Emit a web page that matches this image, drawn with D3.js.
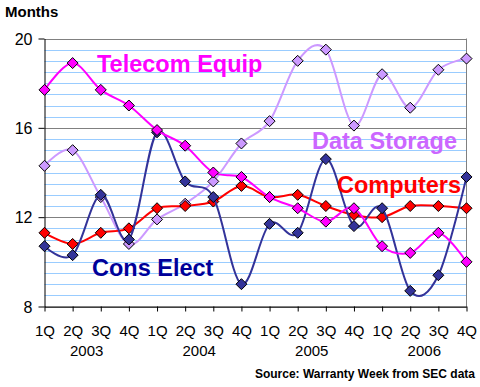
<!DOCTYPE html>
<html>
<head>
<meta charset="utf-8">
<script src="https://cdn.jsdelivr.net/npm/d3@7"></script>
<style>
  html, body { margin: 0; padding: 0; background: #fff; }
  svg { display: block; font-family: "Liberation Sans", Arial, sans-serif; }
</style>
</head>
<body>
<svg id="chart" width="480" height="387"></svg>
<script>
const quarters = ["1Q","2Q","3Q","4Q","1Q","2Q","3Q","4Q","1Q","2Q","3Q","4Q","1Q","2Q","3Q","4Q"];
const years = ["2003","2004","2005","2006"];
const yTicks = [8, 12, 16, 20];

const telecom     = [17.7, 18.9, 17.7, 17.0, 15.9, 15.2, 14.0, 13.8, 12.9, 12.4, 11.8, 12.4, 10.7, 10.4, 11.3, 10.0];
const computers   = [11.3, 10.8, 11.3, 11.5, 12.4, 12.5, 12.7, 13.4, 12.9, 13.0, 12.5, 12.1, 12.0, 12.5, 12.5, 12.4];
const consElect   = [10.7, 10.3, 13.0, 11.0, 15.8, 13.6, 12.9, 9.0, 11.7, 11.3, 14.6, 11.6, 12.4, 8.7, 9.4, 13.8];
const dataStorage = [14.3, 15.0, 12.9, 10.8, 11.9, 12.6, 13.6, 15.3, 16.3, 19.0, 19.5, 16.1, 18.4, 16.9, 18.6, 19.1];

const series = [
  { name: "Data Storage", values: dataStorage, color: "#CC99FF", text: "#CC66FF", lx: 312, ly: 149 },
  { name: "Computers",    values: computers,   color: "#FF0000", text: "#FF0000", lx: 337, ly: 193 },
  { name: "Cons Elect",   values: consElect,   color: "#333399", text: "#000099", lx: 92,  ly: 276 },
  { name: "Telecom Equip",values: telecom,     color: "#FF00FF", text: "#FF00FF", lx: 97,  ly: 72 }
];

const svg = d3.select("#chart");
const pLeft = 44.5, pRight = 466.5, pTop = 38.5, pBottom = 306.5;

const x = d3.scalePoint().domain(d3.range(quarters.length)).range([pLeft, pRight]);
const y = d3.scaleLinear().domain([8, 20]).range([pBottom, pTop]);

// minor gridlines
const minor = d3.range(8.5, 20, 0.5).filter(v => v % 4 !== 0);
svg.append("g").selectAll("line").data(minor).join("line")
  .attr("x1", pLeft).attr("x2", pRight)
  .attr("y1", d => Math.round(y(d)) + 0.5).attr("y2", d => Math.round(y(d)) + 0.5)
  .attr("stroke", "#99CCFF").attr("stroke-width", 1);
// major gridlines
svg.append("g").selectAll("line").data(yTicks).join("line")
  .attr("x1", pLeft).attr("x2", pRight)
  .attr("y1", d => Math.round(y(d)) + 0.5).attr("y2", d => Math.round(y(d)) + 0.5)
  .attr("stroke", "#808080").attr("stroke-width", 1);
// right border
svg.append("line").attr("x1", pRight).attr("x2", pRight).attr("y1", pTop).attr("y2", pBottom)
  .attr("stroke", "#808080");

// axes
const yAxis = svg.append("g").attr("transform", `translate(${pLeft},0)`)
  .call(d3.axisLeft(y).tickValues(yTicks).tickSize(6).tickSizeOuter(0).tickFormat(d3.format("d")));
yAxis.select(".domain").attr("stroke", "#000");
yAxis.selectAll(".tick line").attr("stroke", "#000");
yAxis.selectAll("text").attr("font-size", 16).attr("fill", "#000").attr("x", -12).attr("dy", "0.35em");

const xAxis = svg.append("g").attr("transform", `translate(0,${pBottom})`)
  .call(d3.axisBottom(x).tickSize(5).tickSizeOuter(0).tickFormat(i => quarters[i]));
xAxis.select(".domain").attr("stroke", "#000");
xAxis.selectAll(".tick line").attr("stroke", "#000");
xAxis.selectAll("text").attr("font-size", 15).attr("fill", "#000").attr("y", 29).attr("dy", 0);

// year labels
svg.append("g").selectAll("text").data(years).join("text")
  .attr("x", (d, i) => (x(i * 4 + 1) + x(i * 4 + 2)) / 2)
  .attr("y", 356)
  .attr("text-anchor", "middle").attr("font-size", 15).attr("fill", "#000")
  .text(d => d);

// lines and markers
const line = d3.line().x((d, i) => x(i)).y(d => y(d)).curve(d3.curveCardinal.tension(0));
const diamond = "M0,-5.5L5.5,0L0,5.5L-5.5,0Z";

series.forEach(s => {
  const g = svg.append("g");
  g.append("path").datum(s.values).attr("d", line)
    .attr("fill", "none").attr("stroke", s.color).attr("stroke-width", 2);
  g.selectAll("path.m").data(s.values).join("path").attr("class", "m")
    .attr("d", diamond)
    .attr("transform", (d, i) => `translate(${x(i)},${y(d)})`)
    .attr("fill", s.color).attr("stroke", "#000").attr("stroke-width", 1);
});

// series labels
svg.append("g").selectAll("text").data(series).join("text")
  .attr("x", d => d.lx).attr("y", d => d.ly)
  .attr("font-size", 23.5).attr("font-weight", "bold").attr("fill", d => d.text)
  .text(d => d.name);

// axis title
svg.append("text").attr("x", 5).attr("y", 17)
  .attr("font-size", 15).attr("font-weight", "bold").attr("fill", "#000").text("Months");

// source
svg.append("text").attr("x", 475).attr("y", 378).attr("text-anchor", "end")
  .attr("font-size", 12).attr("font-weight", "bold").attr("fill", "#000")
  .text("Source: Warranty Week from SEC data");
</script>
</body>
</html>
